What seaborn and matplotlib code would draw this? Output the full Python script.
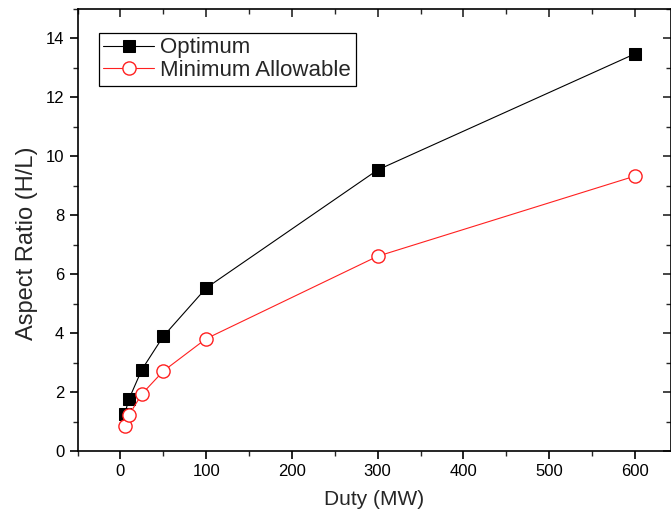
import matplotlib
matplotlib.use("Agg")
import matplotlib.pyplot as plt
import seaborn as sns
import pandas as pd
from matplotlib.ticker import MultipleLocator

# Heat-exchanger duty versus aspect ratio
duty_mw = [5, 10, 25, 50, 100, 300, 600]
optimum = [1.25, 1.76, 2.76, 3.89, 5.53, 9.54, 13.48]
minimum_allowable = [0.86, 1.22, 1.93, 2.71, 3.81, 6.61, 9.33]

sns.set_theme(style="ticks")
plt.rcParams["font.family"] = ["Liberation Sans", "DejaVu Sans"]

df_opt = pd.DataFrame({"Duty": duty_mw, "AR": optimum})
df_min = pd.DataFrame({"Duty": duty_mw, "AR": minimum_allowable})

fig = plt.figure(figsize=(6.71, 5.21), dpi=100)
ax = fig.add_axes([0.1155, 0.1344, 0.8845, 0.8483])

sns.lineplot(data=df_opt, x="Duty", y="AR", ax=ax, color="black", lw=0.8,
             marker="s", markersize=8.5, markerfacecolor="black",
             markeredgecolor="black", label="Optimum")
sns.lineplot(data=df_min, x="Duty", y="AR", ax=ax, color="#ff2020", lw=0.8,
             marker="o", markersize=9.5, markerfacecolor="white",
             markeredgecolor="#ff2020", markeredgewidth=1.0,
             label="Minimum Allowable")

ax.set_xlim(-50, 642)
ax.set_ylim(0, 15)
ax.xaxis.set_major_locator(MultipleLocator(100))
ax.xaxis.set_minor_locator(MultipleLocator(50))
ax.yaxis.set_major_locator(MultipleLocator(2))
ax.yaxis.set_minor_locator(MultipleLocator(1))
ax.set_yticks(range(0, 15, 2))

for side in ["left", "bottom", "top", "right"]:
    ax.spines[side].set_linewidth(1.2)
    ax.spines[side].set_color("black")

ax.tick_params(axis="both", which="major", direction="out", length=6,
               width=1.2, labelsize=12, colors="black")
ax.tick_params(axis="both", which="minor", direction="out", length=3.5,
               width=1.0)

# inward ticks on the top and right edges
secx = ax.secondary_xaxis("top")
secx.xaxis.set_major_locator(MultipleLocator(100))
secx.xaxis.set_minor_locator(MultipleLocator(50))
secx.tick_params(which="major", direction="in", length=6, width=1.2,
                 labeltop=False)
secx.tick_params(which="minor", direction="in", length=3.5, width=1.0)
secy = ax.secondary_yaxis("right")
secy.yaxis.set_major_locator(MultipleLocator(2))
secy.yaxis.set_minor_locator(MultipleLocator(1))
secy.tick_params(which="major", direction="in", length=6, width=1.2,
                 labelright=False)
secy.tick_params(which="minor", direction="in", length=3.5, width=1.0)
for s in secx.spines.values():
    s.set_visible(False)
for s in secy.spines.values():
    s.set_visible(False)

ax.set_xlabel("Duty (MW)", fontsize=15, labelpad=8)
ax.set_ylabel("Aspect Ratio (H/L)", fontsize=17)
ax.yaxis.set_label_coords(-0.067, 0.47)

leg = ax.legend(loc="upper left", bbox_to_anchor=(0.036, 0.946),
                fontsize=16, frameon=True, fancybox=False,
                edgecolor="black", framealpha=1, borderpad=0.2,
                handlelength=2.3, handletextpad=0.27, labelspacing=0.08,
                borderaxespad=0)
leg.get_frame().set_linewidth(0.9)

fig.savefig("out.png", dpi=100)
